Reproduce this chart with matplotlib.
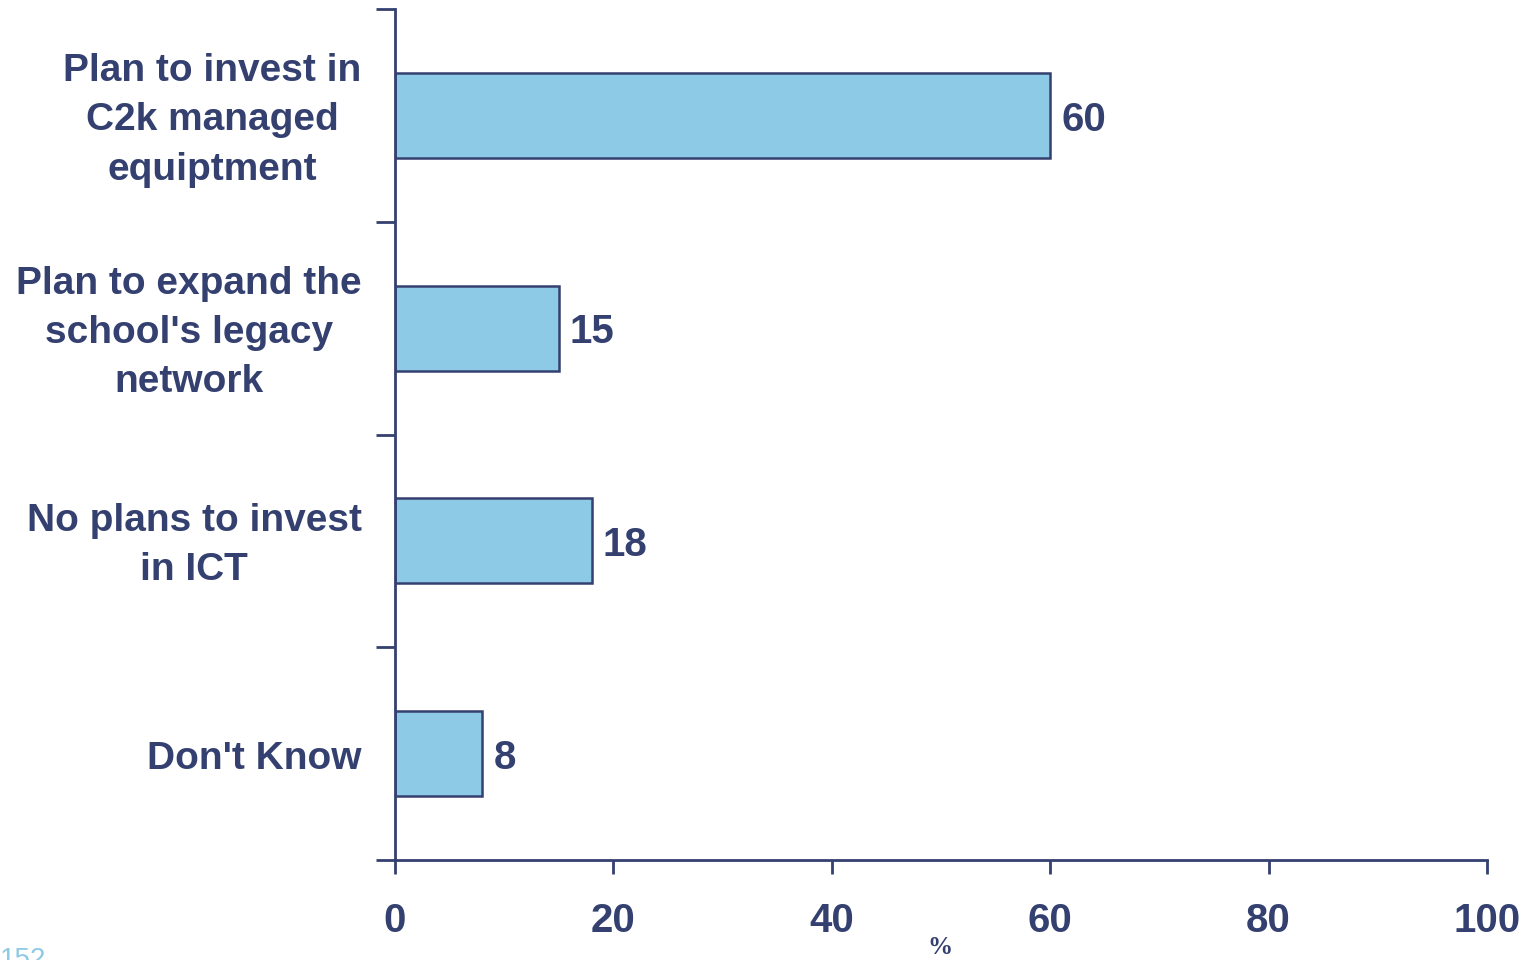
import numpy as np
import matplotlib.pyplot as plt
from matplotlib.transforms import ScaledTranslation

categories = ["Plan to invest in\nC2k managed\nequiptment",
              "Plan to expand the\nschool's legacy\nnetwork",
              "No plans to invest\nin ICT",
              "Don't Know"]
values = [60, 15, 18, 8]
xticks = [0, 20, 40, 60, 80, 100]

navy = "#34406F"
bar_col = "#8DCAE5"

plt.rcParams['font.family'] = ['Liberation Sans', 'DejaVu Sans']

fig = plt.figure(figsize=(15.31, 9.6), dpi=100)
ax = fig.add_axes([395 / 1531, 1 - 860 / 960, (1487 - 395) / 1531, (860 - 9) / 960])

pos = np.arange(len(categories))
ax.barh(pos, values, height=0.4, color=bar_col, edgecolor=navy, linewidth=1.8)

# value labels sit a touch below bar centre in the original
for p, v in zip(pos, values):
    ax.text(v + 1.0, p + 0.02, str(v), va="center", ha="left", fontsize=29,
            fontweight="bold", color=navy)

ax.set_xlim(0, 100)
ax.set_ylim(len(categories) - 0.5, -0.5)

ax.set_xticks(xticks)
ax.set_xticklabels([str(t) for t in xticks], fontsize=29, fontweight="bold", color=navy)
ax.tick_params(axis="x", direction="out", length=10, width=2, color=navy, pad=20)

ax.set_yticks(np.arange(len(categories) + 1) - 0.5)
ax.set_yticklabels([])
ax.set_yticks(pos, minor=True)
ax.set_yticklabels(categories, minor=True, fontsize=28, fontweight="bold",
                   color=navy, linespacing=1.47)
ax.tick_params(axis="y", which="major", direction="out", length=14, width=2, color=navy)
ax.tick_params(axis="y", which="minor", length=0, pad=24)
shift = ScaledTranslation(0, -5 / 100, fig.dpi_scale_trans)
for lbl in ax.get_yticklabels(minor=True):
    lbl.set_multialignment("center")
    lbl.set_verticalalignment("center")
    lbl.set_transform(lbl.get_transform() + shift)

for s in ["top", "right"]:
    ax.spines[s].set_visible(False)
for s in ["left", "bottom"]:
    ax.spines[s].set_color(navy)
    ax.spines[s].set_linewidth(2)

fig.text(940 / 1531, 1 - 948 / 960, "%", ha="center", va="center", fontsize=18,
         fontweight="bold", color=navy, family="Liberation Serif")
fig.text(0.0, 1 - 947 / 960, "152", ha="left", va="top", fontsize=20, color="#8DCAE5")

fig.savefig("out.png", dpi=100)
